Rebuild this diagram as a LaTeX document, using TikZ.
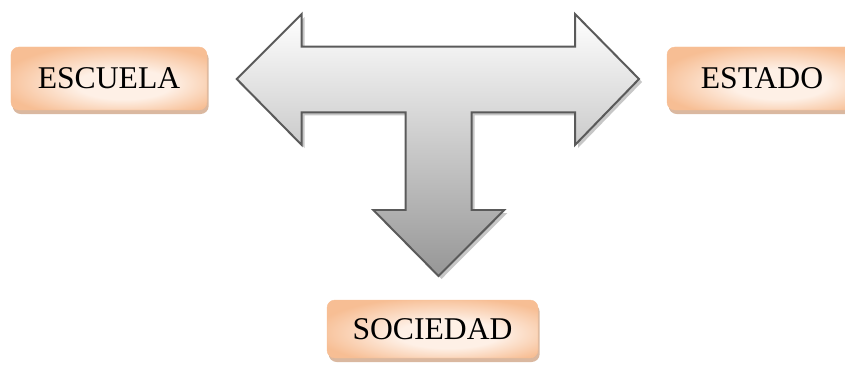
\documentclass[tikz,border=0pt]{standalone}
\usepackage{fontspec}
\setmainfont{Liberation Serif}
\usetikzlibrary{shadows}
\definecolor{boxedge}{RGB}{247,190,148}
\definecolor{boxin}{RGB}{254,240,230}
\definecolor{boxshadow}{RGB}{205,160,128}
\definecolor{arrowline}{RGB}{90,90,90}
\definecolor{arrowbot}{RGB}{150,150,150}
\definecolor{arrowmid}{RGB}{226,226,226}
\pgfdeclareradialshading{boxshade}{\pgfpoint{5bp}{-6bp}}{color(0bp)=(boxin); color(12bp)=(boxin); color(30bp)=(boxedge); color(50bp)=(boxedge)}
\tikzset{
  lbl/.style={rounded corners=0.24cm, shading=boxshade,
    draw=boxedge, line width=0.4pt,
    font=\fontsize{27}{32}\selectfont, text=black, inner sep=0pt,
    drop shadow={shadow xshift=0.05cm, shadow yshift=-0.12cm, fill=boxshadow, opacity=0.75}},
  tarrow/.style={draw=arrowline, line width=1.7pt, line join=miter,
    top color=white, middle color=arrowmid, bottom color=arrowbot},
  tshadow/.style={fill=black!22, draw=none}
}
\begin{document}
\begin{tikzpicture}[x=0.03cm,y=-0.03cm]
\useasboundingbox (0,0) rectangle (845,364);
% T-shaped three-way arrow
\def\tpath{(236.7,79) -- (301.7,14) -- (301.7,46.7) -- (575,46.7) -- (575,14) -- (639,79)
  -- (575,145) -- (575,112.3) -- (471.7,112.3) -- (471.7,210) -- (504.3,210) -- (438.5,276)
  -- (373.3,210) -- (405.7,210) -- (405.7,112.3) -- (301.7,112.3) -- (301.7,145) -- cycle}
\begin{scope}[shift={(3,3)}]
\path[tshadow] \tpath;
\end{scope}
\path[tarrow] \tpath;
% labels
\node[lbl, minimum width=5.88cm, minimum height=1.89cm] (escuela) at (109,78.5) {ESCUELA};
\node[lbl, minimum width=5.88cm, minimum height=1.89cm] (estado) at (765,78.5) {\hspace*{-0.18cm}ESTADO};
\node[lbl, minimum width=6.33cm, minimum height=1.74cm] (sociedad) at (432.5,329) {SOCIEDAD};
\end{tikzpicture}
\end{document}
